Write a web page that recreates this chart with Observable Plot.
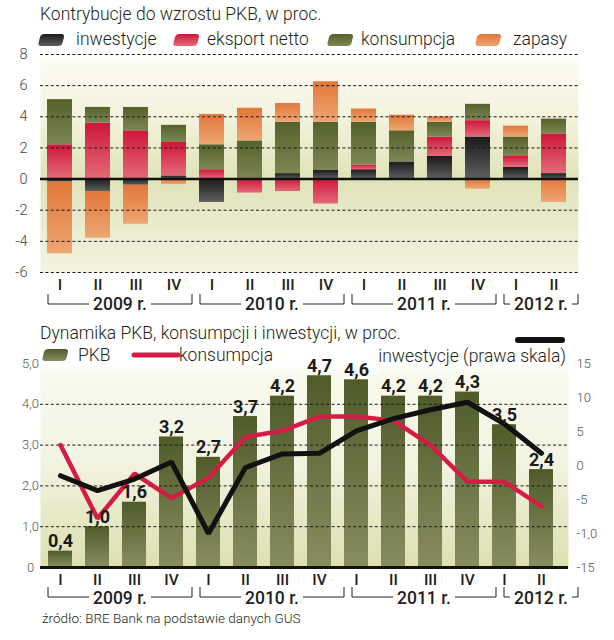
<!DOCTYPE html>
<html><head><meta charset="utf-8">
<script src="https://cdn.jsdelivr.net/npm/d3@7"></script>
<script src="https://cdn.jsdelivr.net/npm/@observablehq/plot@0.6"></script>
<style>
body{margin:0;background:#fff;}
#wrap{position:relative;width:614px;height:640px;font-family:Roboto,sans-serif;color:#231f20;overflow:hidden;}
.abs{position:absolute;white-space:nowrap;z-index:2;}
.t{font-size:17.5px;font-weight:300;line-height:20px;height:20px;}
#wrap svg.plot{position:absolute;left:0;z-index:1;}
</style></head><body>
<svg width="0" height="0" style="position:absolute">
<defs>
<linearGradient id="gInw" x1="0" y1="0" x2="0" y2="1"><stop offset="0" stop-color="#1b1b1b"/><stop offset="1" stop-color="#5e5e5e"/></linearGradient>
<linearGradient id="gEks" x1="0" y1="0" x2="0" y2="1"><stop offset="0" stop-color="#d0163b"/><stop offset="1" stop-color="#e26a78"/></linearGradient>
<linearGradient id="gKon" x1="0" y1="0" x2="0" y2="1"><stop offset="0" stop-color="#55612a"/><stop offset="1" stop-color="#7d8654"/></linearGradient>
<linearGradient id="gZap" x1="0" y1="0" x2="0" y2="1"><stop offset="0" stop-color="#e2773a"/><stop offset="1" stop-color="#eea672"/></linearGradient>
<linearGradient id="gPkb" x1="0" y1="0" x2="0" y2="1"><stop offset="0" stop-color="#505b2a"/><stop offset="1" stop-color="#888d5f"/></linearGradient>
<linearGradient id="bgTop" x1="0" y1="0" x2="0" y2="1"><stop offset="0" stop-color="#ffffff"/><stop offset="0.05" stop-color="#fbfaf0"/><stop offset="0.3" stop-color="#f3f2dc"/><stop offset="0.57" stop-color="#dfe3b8"/><stop offset="0.8" stop-color="#ebecd0"/><stop offset="1" stop-color="#f3f3e0"/></linearGradient>
<linearGradient id="bgBot" x1="0" y1="0" x2="0" y2="1"><stop offset="0" stop-color="#ffffff"/><stop offset="0.08" stop-color="#f8f8ec"/><stop offset="0.45" stop-color="#f4f4e4"/><stop offset="1" stop-color="#dcdfb0"/></linearGradient>
</defs></svg>
<div id="wrap"></div>
<script>
// ---------- DATA ----------
const quarters = ["I","II","III","IV","I","II","III","IV","I","II","III","IV","I","II"];
const years = ["2009 r.","2010 r.","2011 r.","2012 r."];
const yearFirst = [0,4,8,12];
const yearLast = [3,7,11,13];

const seriesNames = ["inwestycje","eksport netto","konsumpcja","zapasy"];
const inwestycje   = [-0.2,-0.8,-0.4,0.2,-1.5,0.0,0.35,0.55,0.6,1.1,1.45,2.7,0.75,0.35];
const eksportNetto = [2.2,3.6,3.1,2.15,0.6,-0.9,-0.8,-1.6,0.3,0.0,1.25,1.05,0.7,2.55];
const konsumpcja   = [2.9,1.0,1.5,1.1,1.6,2.45,3.3,3.1,2.75,2.0,0.95,1.05,1.25,0.95];
const zapasy       = [-4.6,-3.0,-2.5,-0.35,1.95,2.1,1.2,2.6,0.85,1.0,0.35,-0.65,0.7,-1.5];
const topTicks = [-6,-4,-2,0,2,4,6,8];

const pkb           = [0.4,1.0,1.6,3.2,2.7,3.7,4.2,4.7,4.6,4.2,4.2,4.3,3.5,2.4];
const konsumpcjaDyn = [3.0,1.2,2.3,1.7,2.2,3.2,3.35,3.7,3.7,3.6,3.0,2.1,2.1,1.5];
const inwestycjeDyn = [-1.5,-3.7,-2.0,0.5,-10.0,-0.3,1.7,1.8,5.1,6.9,8.2,9.3,6.1,1.8];
const leftTicks = [0,1,2,3,4,5];
const leftLabels = ["0","1,0","2,0","3,0","4,0","5,0"];
const rightTicks = [-15,-10,-5,0,5,10,15];
const rightLabels = ["-15","-1,0","-5","0","5","10","15"];

// ---------- BUILD ----------
const wrap = document.getElementById("wrap");
const FONT = "Roboto, sans-serif";
const fills = ["url(#gInw)","url(#gEks)","url(#gKon)","url(#gZap)"];
const contrib = [];
[inwestycje, eksportNetto, konsumpcja, zapasy].forEach((arr, s) =>
  arr.forEach((v, i) => contrib.push({i, series: seriesNames[s], value: v})));

function el(html){ const d=document.createElement("div"); d.innerHTML=html; return d.firstElementChild; }
function swatch(fill){
  return `<svg width="30" height="14" style="display:block"><rect x="4" y="1" width="24" height="12" rx="3.5" transform="skewX(-14)" fill="${fill}"/></svg>`;
}
// titles & legends (HTML)
wrap.appendChild(el(`<div class="abs t" style="left:40px;top:4px;">Kontrybucje do wzrostu PKB, w proc.</div>`));
const legPos = [[37,76],[172,207],[326,361],[474,513]];
seriesNames.forEach((n,k)=>{
  wrap.appendChild(el(`<div class="abs" style="left:${legPos[k][0]}px;top:33px;">${swatch(fills[k])}</div>`));
  wrap.appendChild(el(`<div class="abs t" style="left:${legPos[k][1]}px;top:29px;">${n}</div>`));
});
wrap.appendChild(el(`<div class="abs t" style="left:40px;top:323px;">Dynamika PKB, konsumpcji i inwestycji, w proc.</div>`));
wrap.appendChild(el(`<div class="abs" style="left:41px;top:348px;">${swatch("url(#gPkb)")}</div>`));
wrap.appendChild(el(`<div class="abs t" style="left:78px;top:345px;">PKB</div>`));
wrap.appendChild(el(`<div class="abs" style="left:131px;top:350px;"><svg width="50" height="10" style="display:block"><line x1="3" y1="5" x2="47" y2="5" stroke="#d41c45" stroke-width="5" stroke-linecap="round"/></svg></div>`));
wrap.appendChild(el(`<div class="abs t" style="left:179px;top:345px;">konsumpcja</div>`));
wrap.appendChild(el(`<div class="abs" style="left:515px;top:335px;"><svg width="50" height="10" style="display:block"><line x1="3" y1="5" x2="47" y2="5" stroke="#111" stroke-width="6" stroke-linecap="round"/></svg></div>`));
wrap.appendChild(el(`<div class="abs t" style="right:48px;top:346px;">inwestycje (prawa skala)</div>`));
wrap.appendChild(el(`<div class="abs" style="left:42px;top:609px;font-size:13.5px;font-weight:300;line-height:18px;">źródło: BRE Bank na podstawie danych GUS</div>`));

const dash = {stroke:"#1a1a1a", strokeWidth:1, strokeDasharray:"3,2.4"};
const qLabel = (dy) => Plot.text(quarters, {x:(d,i)=>i, text:d=>d, frameAnchor:"bottom", lineAnchor:"top", dy, fontSize:15.5, fontWeight:500, fontFamily:FONT, fill:"#231f20"});

// top chart
const topChart = Plot.plot({
  width:614, height:270, marginTop:10, marginBottom:42, marginLeft:40, marginRight:36,
  style:{background:"transparent", overflow:"visible", fontFamily:FONT},
  x:{type:"band", domain:d3.range(14), range:[32.94,579.1], padding:0.343, axis:null},
  y:{domain:[-6,8], axis:null},
  color:{domain:seriesNames, range:fills},
  marks:[
    Plot.frame({fill:"url(#bgTop)", stroke:"none"}),
    Plot.barY(contrib, {x:"i", y:"value", fill:"series"}),
    Plot.ruleY(topTicks.filter(d=>d!==0), dash),
    Plot.ruleY([0], {stroke:"#111", strokeWidth:2.5}),
    Plot.text(topTicks, {y:d=>d, text:d=>String(d), frameAnchor:"left", dx:-13, textAnchor:"end", fontSize:14.5, fontWeight:300, fill:"#444", fontFamily:FONT}),
    qLabel(6.5)
  ]
});
topChart.classList.add("plot");
topChart.style.top = "44px";
wrap.appendChild(topChart);

const fmt = d => d.toFixed(1).replace(".", ",");
const bottomChart = Plot.plot({
  width:614, height:257, marginTop:13, marginBottom:40, marginLeft:40, marginRight:46,
  style:{background:"transparent", overflow:"visible", fontFamily:FONT},
  x:{type:"band", domain:d3.range(14), range:[30.23,571.8], padding:0.338, axis:null},
  y:{domain:[0,5], axis:null},
  marks:[
    Plot.frame({fill:"url(#bgBot)", stroke:"none"}),
    Plot.barY(pkb, {x:(d,i)=>i, y:d=>d, fill:"url(#gPkb)"}),
    Plot.ruleY([1,2,3,4], dash),
    Plot.ruleY([0], {stroke:"#111", strokeWidth:3}),
    Plot.line(konsumpcjaDyn, {x:(d,i)=>i, y:d=>d, stroke:"#d41c45", strokeWidth:4.5, strokeLinejoin:"miter"}),
    Plot.line(inwestycjeDyn, {x:(d,i)=>i, y:d=>(d+15)/6, stroke:"#111", strokeWidth:5, strokeLinejoin:"miter"}),
    Plot.text(pkb, {x:(d,i)=>i, y:d=>d, text:fmt, lineAnchor:"bottom", dy:-4, fontSize:18, fontWeight:700, fill:"#1a1a1a", fontFamily:FONT}),
    Plot.text(leftTicks, {y:d=>d, text:(d,i)=>leftLabels[i], frameAnchor:"left", dx:-10, textAnchor:"middle", fontSize:13, fontWeight:300, fill:"#555", fontFamily:FONT}),
    Plot.text(rightTicks, {y:d=>(d+15)/6, text:(d,i)=>rightLabels[i], frameAnchor:"right", dx:8, textAnchor:"start", fontSize:13, fontWeight:300, fill:"#555", fontFamily:FONT}),
    qLabel(6.5)
  ]
});
bottomChart.classList.add("plot");
bottomChart.style.top = "350px";
wrap.appendChild(bottomChart);

// year brackets, positioned through the top chart's x scale (both panels share the layout)
const xs = topChart.scale("x");
function drawYears(svgEl, lineY, tickTop, baseline){
  const s = d3.select(svgEl);
  years.forEach((label,k)=>{
    const x0 = xs.apply(yearFirst[k]) + 1;
    const x1 = k === years.length-1 ? 578 : xs.apply(yearLast[k]) + xs.bandwidth + 6;
    const cx = (x0+x1)/2;
    const t = s.append("text").attr("x",cx).attr("y",baseline).attr("text-anchor","middle")
      .attr("font-family",FONT).attr("font-size",17.5).attr("font-weight",500).attr("fill","#231f20").text(label);
    const tw = t.node().getComputedTextLength();
    s.append("path").attr("fill","none").attr("stroke","#231f20").attr("stroke-width",1)
      .attr("d",`M${x0},${tickTop}V${lineY}H${cx-tw/2-4}M${cx+tw/2+4},${lineY}H${x1}V${tickTop}`);
  });
}
drawYears(topChart, 260, 250, 266);
drawYears(bottomChart, 247, 237, 253.5);
</script></body></html>
